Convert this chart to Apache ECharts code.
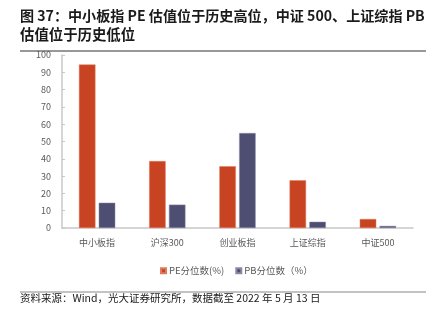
<!DOCTYPE html>
<html><head><meta charset="utf-8">
<script src="https://cdn.jsdelivr.net/npm/echarts@6/dist/echarts.min.js"></script>
<style>html,body{margin:0;padding:0;background:#fff}#c{width:433px;height:324px}</style>
</head><body><div id="c"></div>
<script>
const categories = ['中小板指', '沪深300', '创业板指', '上证综指', '中证500'];
const peValues = [94.5, 38.7, 35.7, 27.6, 5.2];
const pbValues = [14.6, 13.5, 54.9, 3.6, 1.2];
const seriesNames = ['PE分位数(%)', 'PB分位数（%）'];
const titleLines = ['图 37：中小板指 PE 估值位于历史高位，中证 500、上证综指 PB', '估值位于历史低位'];
const sourceText = '资料来源：Wind，光大证券研究所，数据截至 2022 年 5 月 13 日';

const chart = echarts.init(document.getElementById('c'));
const font = '"Noto Sans CJK SC", "Noto Sans", sans-serif';
chart.setOption({
  animation: false,
  textStyle: { fontFamily: font },
  graphic: [
    { type: 'text', left: 20, top: 9, style: { text: titleLines[0], font: 'bold 14.1px ' + font, fill: '#1a1a1a' } },
    { type: 'text', left: 20, top: 27, style: { text: titleLines[1], font: 'bold 14.4px ' + font, fill: '#1a1a1a' } },
    { type: 'line', shape: { x1: 20, y1: 51, x2: 426, y2: 51 }, style: { stroke: '#333', lineWidth: 1 } },
    { type: 'line', shape: { x1: 20, y1: 292, x2: 426, y2: 292 }, style: { stroke: '#888', lineWidth: 1.2 } },
    { type: 'text', left: 20, top: 293, style: { text: sourceText, font: '10.5px ' + font, fill: '#1a1a1a' } }
  ],
  legend: {
    top: 261, left: 155, itemWidth: 5, itemHeight: 5, itemGap: 11,
    icon: 'rect',
    textStyle: { fontSize: 9.5, color: '#595959', fontFamily: font, padding: [0, 0, 0, -2] },
    data: seriesNames
  },
  grid: { left: 62, right: 20, top: 55, bottom: 96 },
  xAxis: {
    type: 'category', data: categories,
    axisLine: { lineStyle: { color: '#c8c8c8', width: 1.5 } },
    axisTick: { inside: true, length: 3, lineStyle: { color: '#c8c8c8' } },
    axisLabel: { color: '#595959', fontSize: 9, margin: 10, fontFamily: font }
  },
  yAxis: {
    type: 'value', min: 0, max: 100, interval: 10,
    axisLine: { show: true, lineStyle: { color: '#c8c8c8', width: 1.5 } },
    axisTick: { show: true, inside: true, length: 3, lineStyle: { color: '#c8c8c8' } },
    splitLine: { show: false },
    axisLabel: { color: '#595959', fontSize: 9, margin: 11, fontFamily: font }
  },
  series: [
    { name: seriesNames[0], type: 'bar', data: peValues, barWidth: 16.5, barGap: '20%',
      itemStyle: { color: '#C74322', borderColor: '#E07A5F', borderWidth: 0.5 } },
    { name: seriesNames[1], type: 'bar', data: pbValues, barWidth: 16.5,
      itemStyle: { color: '#4E4E72', borderColor: '#8A8AA5', borderWidth: 0.5 } }
  ]
});
</script></body></html>
